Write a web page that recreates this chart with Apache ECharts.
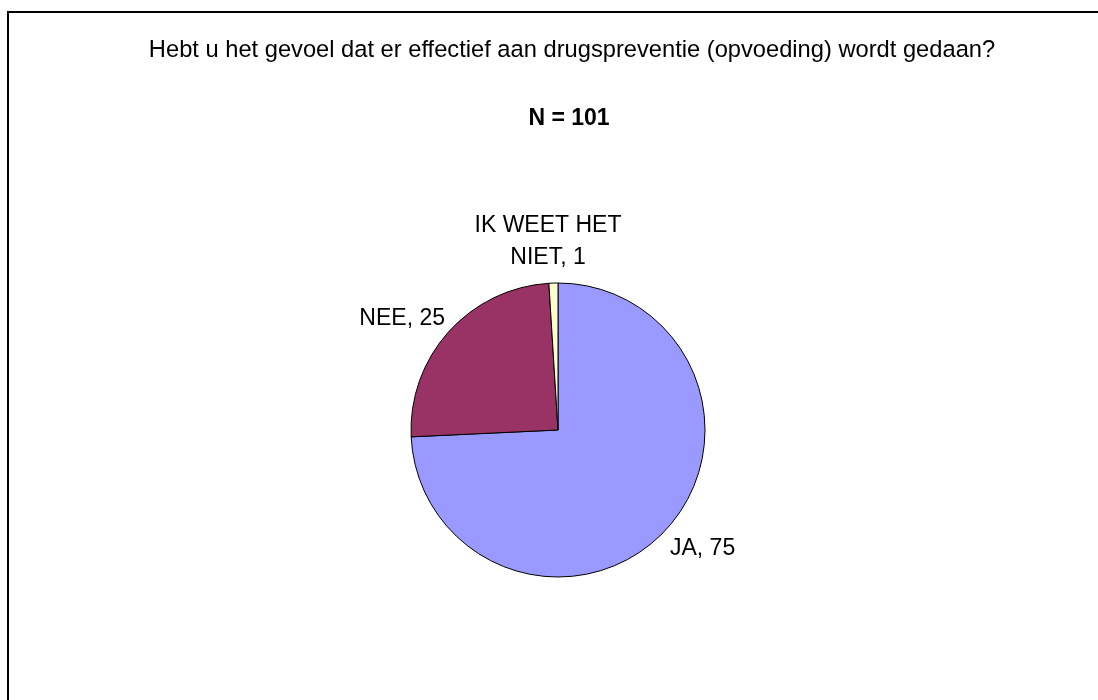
<!DOCTYPE html>
<html>
<head>
<meta charset="utf-8">
<script src="https://cdn.jsdelivr.net/npm/echarts@6/dist/echarts.min.js"></script>
<style>
  html, body { margin: 0; padding: 0; background: #fff; }
  #chart { width: 1098px; height: 700px; }
</style>
</head>
<body>
<div id="chart"></div>
<script>
// categories en aantallen (N = 101)
var categories = ['JA', 'NEE', 'IK WEET HET\nNIET'];
var counts = [75, 25, 1];
var sliceColors = ['#9999FF', '#993366', '#FFFFCC'];

var titleText = 'Hebt u het gevoel dat er effectief aan drugspreventie (opvoeding) wordt gedaan?';
var subText = 'N = 101';

var chart = echarts.init(document.getElementById('chart'));

var pieData = categories.map(function (name, i) {
    return { name: name, value: counts[i], itemStyle: { color: sliceColors[i] } };
});

// waar de labels staan (anker + uitlijning)
var labelSpots = [
    { x: 670, y: 549, align: 'left', verticalAlign: 'middle' },
    { x: 445, y: 319, align: 'right', verticalAlign: 'middle' },
    { x: 548, y: 242, align: 'center', verticalAlign: 'middle' }
];

chart.setOption({
    backgroundColor: '#fff',
    textStyle: { fontFamily: 'Liberation Sans, Arial, sans-serif' },
    title: [{
        text: titleText,
        left: 567, top: 33, textAlign: 'center',
        textStyle: { fontSize: 23.7, fontWeight: 'normal', color: '#000', fontFamily: 'Liberation Sans' }
    }, {
        text: subText,
        left: 564, top: 102, textAlign: 'center',
        textStyle: { fontSize: 23, fontWeight: 'bold', color: '#000', fontFamily: 'Liberation Sans' }
    }],
    graphic: [{
        // kader links/boven
        type: 'rect',
        shape: { x: 8, y: 12, width: 1300, height: 900 },
        style: { fill: 'none', stroke: '#000', lineWidth: 2 },
        silent: true
    }],
    series: [{
        type: 'pie',
        center: [558, 430],
        radius: 147,
        startAngle: 90,
        clockwise: true,
        avoidLabelOverlap: false,
        animation: false,
        itemStyle: { borderColor: '#000', borderWidth: 1 },
        label: {
            show: true,
            position: 'outside',
            formatter: '{b}, {c}',
            color: '#000',
            fontSize: 23,
            lineHeight: 32,
            fontFamily: 'Liberation Sans'
        },
        labelLine: { show: false, length: 12, length2: 0 },
        labelLayout: function (p) {
            return labelSpots[p.dataIndex];
        },
        emphasis: { disabled: true },
        data: pieData
    }]
});
</script>
</body>
</html>
